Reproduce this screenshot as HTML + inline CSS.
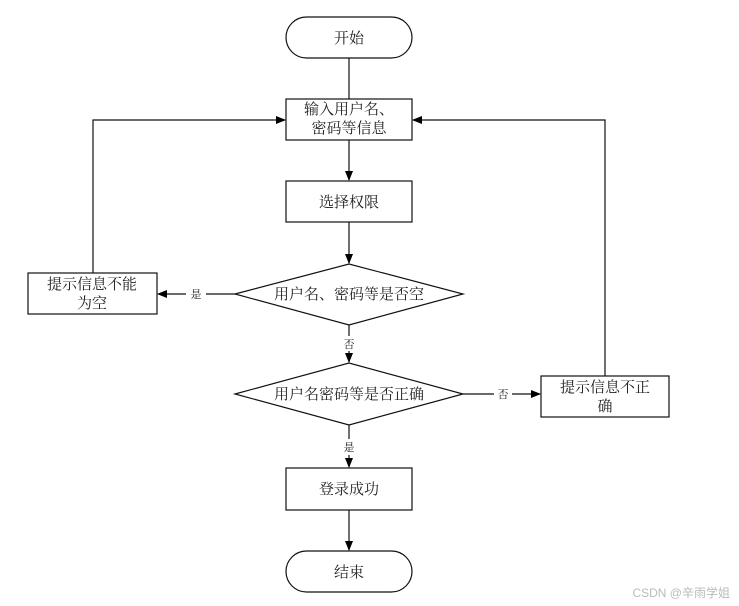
<!DOCTYPE html>
<html><head><meta charset="utf-8"><style>
html,body{margin:0;padding:0;background:#fff;width:739px;height:606px;overflow:hidden}
text{font-family:"Liberation Serif","Noto Serif CJK SC","Noto Sans CJK SC",serif;fill:#222}
</style></head><body>
<svg width="739" height="606" viewBox="0 0 739 606" xmlns="http://www.w3.org/2000/svg">
<defs><marker id="a" markerWidth="10" markerHeight="10" refX="9" refY="5" orient="auto" markerUnits="userSpaceOnUse"><path d="M0,1 L10,5 L0,9 z" fill="#000"/></marker></defs>
<g fill="none" stroke="#111" stroke-width="1.2">
<rect x="286" y="17" width="126" height="41" rx="20.5"/>
<rect x="286" y="99" width="126" height="41"/>
<rect x="286" y="181" width="126" height="41"/>
<polygon points="235,294 349,264 463,294 349,325"/>
<rect x="28" y="273" width="129" height="41"/>
<polygon points="235,394 349,363 463,394 349,425"/>
<rect x="541" y="376" width="128" height="41"/>
<rect x="286" y="468" width="126" height="42"/>
<rect x="286" y="551" width="126" height="41" rx="20.5"/>
<line x1="349" y1="58" x2="349" y2="99"/>
<line x1="349" y1="140" x2="349" y2="180" marker-end="url(#a)"/>
<line x1="349" y1="222" x2="349" y2="263" marker-end="url(#a)"/>
<line x1="235" y1="294" x2="206" y2="294"/>
<line x1="186" y1="294" x2="158" y2="294" marker-end="url(#a)"/>
<polyline points="93,273 93,120 285,120" marker-end="url(#a)"/>
<line x1="349" y1="325" x2="349" y2="336"/>
<line x1="349" y1="351" x2="349" y2="362" marker-end="url(#a)"/>
<line x1="463" y1="394" x2="494" y2="394"/>
<line x1="512" y1="394" x2="540" y2="394" marker-end="url(#a)"/>
<polyline points="605,376 605,120 413,120" marker-end="url(#a)"/>
<line x1="349" y1="425" x2="349" y2="439"/>
<line x1="349" y1="455" x2="349" y2="467" marker-end="url(#a)"/>
<line x1="349" y1="510" x2="349" y2="550" marker-end="url(#a)"/>
</g>
<g font-size="15" text-anchor="middle">
<text x="349" y="43">开始</text>
<text x="349" y="114">输入用户名、</text>
<text x="349" y="133">密码等信息</text>
<text x="349" y="207">选择权限</text>
<text x="349" y="299">用户名、密码等是否空</text>
<text x="92" y="289">提示信息不能</text>
<text x="92" y="308">为空</text>
<text x="349" y="399">用户名密码等是否正确</text>
<text x="605" y="392">提示信息不正</text>
<text x="605" y="411">确</text>
<text x="349" y="494">登录成功</text>
<text x="349" y="577">结束</text>
</g>
<g font-size="11" text-anchor="middle">
<text x="196" y="298">是</text>
<text x="349" y="348">否</text>
<text x="503" y="398">否</text>
<text x="349" y="451">是</text>
</g>
<text x="730" y="597" font-size="12" text-anchor="end" style="fill:#bbb;font-family:'Liberation Sans','Noto Sans CJK SC',sans-serif">CSDN @辛雨学姐</text>
</svg>
</body></html>
